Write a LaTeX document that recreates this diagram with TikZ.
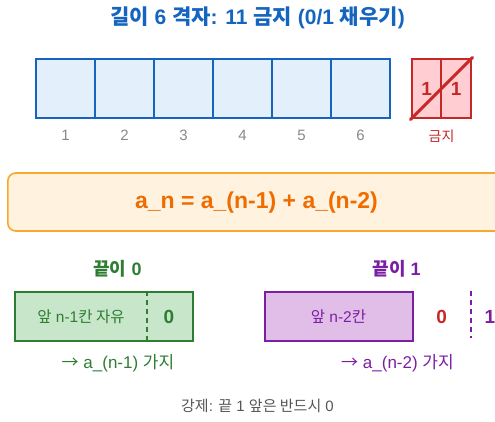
\documentclass[tikz,border=0pt]{standalone}
\usepackage{fontspec}
\setmainfont{Liberation Sans}
\newfontfamily\kr{Noto Sans CJK KR}
\definecolor{cblue}{HTML}{1565C0}
\definecolor{cbluefill}{HTML}{E3EFFA}
\definecolor{cred}{HTML}{C62828}
\definecolor{credfill}{HTML}{FFCDD2}
\definecolor{corange}{HTML}{F9A82B}
\definecolor{corangefill}{HTML}{FFF3E0}
\definecolor{corangetext}{HTML}{EF6C00}
\definecolor{cgreen}{HTML}{2E7D32}
\definecolor{cgreenfill}{HTML}{C8E6C9}
\definecolor{cpurple}{HTML}{7B1FA2}
\definecolor{cpurplefill}{HTML}{E1BEE7}
\definecolor{cgray}{HTML}{888888}
\definecolor{cdark}{HTML}{555555}
\tikzset{
  cell/.style={draw=cblue, fill=cbluefill, line width=2.5pt, minimum width=59pt, minimum height=59pt, inner sep=0pt},
  fcell/.style={draw=cred, fill=credfill, line width=1.8pt, minimum width=29.65pt, minimum height=59pt, inner sep=0pt, text=cred, font=\bfseries\fontsize{19}{21}\selectfont},
  numlbl/.style={text=cgray, font=\fontsize{15}{17}\selectfont, anchor=base},
  headlbl/.style={font=\bfseries\fontsize{18}{21}\selectfont},
  boxtxt/.style={font=\fontsize{15.5}{18}\selectfont},
  bigdigit/.style={font=\bfseries\fontsize{19}{21}\selectfont},
  arrtxt/.style={font=\fontsize{17}{19}\selectfont},
}
\begin{document}
\begin{tikzpicture}[x=1pt,y=-1pt]
\useasboundingbox (0,0) rectangle (495,421);
\clip (0,0) rectangle (495,421);
% title
\node[text=cblue, font=\bfseries\fontsize{21}{24}\selectfont] (title) at (257.5,18) {{\kr 길이} 6 {\kr 격자}: 11 {\kr 금지} (0/1 {\kr 채우기})};
% cells
\foreach \i in {1,...,6} {
  \node[cell] (c\i) at ({36+29.5+59*(\i-1)},88.7) {};
  \node[numlbl] (l\i) at ({36+29.5+59*(\i-1)},140) {\i};
}
% forbidden
\node[fcell] (f1) at (426.6,88.7) {1};
\node[fcell] (f2) at (456.2,88.7) {1};
\coordinate (dA) at (410.5,119.5);
\coordinate (dB) at (472.5,57.5);
\draw[cred, line width=3pt, line cap=round] (dA) -- (dB);
\node[text=cred, font=\kr\fontsize{14}{16}\selectfont] (flbl) at (441.5,136) {금지};
% formula
\node[draw=corange, fill=corangefill, line width=1.6pt, rounded corners=8pt, minimum width=510pt, minimum height=58pt, anchor=west] (formula) at (7,202) {};
\node[text=corangetext, font=\bfseries\fontsize{23}{26}\selectfont] (ftext) at (256.5,203) {a\_n = a\_(n-1) + a\_(n-2)};
% end 0
\node[headlbl, text=cgreen] (h0) at (117.5,269) {{\kr 끝이} 0};
\node[draw=cgreen, fill=cgreenfill, line width=2pt, minimum width=177.5pt, minimum height=49.5pt, inner sep=0pt, anchor=north west] (g) at (14,290.7) {};
\coordinate (gdt) at (146.7,290.7);
\coordinate (gdb) at (146.7,340.2);
\draw[cgreen, line width=2pt, dash pattern=on 5pt off 4pt] (gdt) -- (gdb);
\node[boxtxt, text=cgreen] (gt) at (81,316.5) {{\kr 앞} n-1{\kr 칸 자유}};
\node[bigdigit, text=cgreen] (g0) at (169,316.5) {0};
\node[arrtxt, text=cgreen] (ga) at (118,363) {{\kr →} a\_(n-1) {\kr 가지}};
% end 1
\node[headlbl, text=cpurple] (h1) at (396.5,269) {{\kr 끝이} 1};
\node[draw=cpurple, fill=cpurplefill, line width=2pt, minimum width=148.3pt, minimum height=49.5pt, inner sep=0pt, anchor=north west] (p) at (264,290.7) {};
\node[boxtxt, text=cpurple] (pt) at (338.5,316.5) {{\kr 앞} n-2{\kr 칸}};
\node[bigdigit, text=cred] (p0) at (441.7,316.5) {0};
\coordinate (pdt) at (471,290.7);
\coordinate (pdb) at (471,338);
\draw[cpurple, line width=2pt, dash pattern=on 5pt off 4pt] (pdt) -- (pdb);
\node[bigdigit, text=cpurple] (p1) at (490,316.5) {1};
\node[arrtxt, text=cpurple] (pa) at (397.5,363) {{\kr →} a\_(n-2) {\kr 가지}};
% bottom
\node[text=cdark, font=\fontsize{15}{17}\selectfont] (note) at (257.5,405.5) {{\kr 강제}: {\kr 끝} 1 {\kr 앞은 반드시} 0};
\end{tikzpicture}
\end{document}
